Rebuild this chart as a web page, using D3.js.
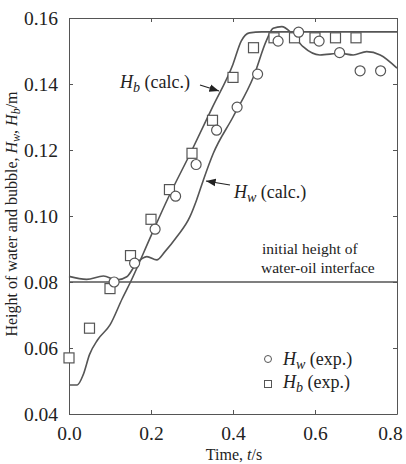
<!DOCTYPE html>
<html>
<head>
<meta charset="utf-8">
<script src="https://cdn.jsdelivr.net/npm/d3@7"></script>
<style>
  body { margin: 0; background: #fff; }
  svg text { font-family: "Liberation Serif", "DejaVu Serif", serif; fill: #222; }
</style>
</head>
<body>
<div id="chart"></div>
<script>
// calculated curves
var hb_calc_t = [0, 0.02, 0.035, 0.05, 0.07, 0.1, 0.13, 0.15, 0.2, 0.24, 0.3, 0.35, 0.4, 0.42, 0.44, 0.47, 0.8];
var hb_calc_h = [0.0488, 0.0488, 0.052, 0.058, 0.0625, 0.067, 0.075, 0.080, 0.094, 0.105, 0.120, 0.133, 0.146, 0.153, 0.1555, 0.1558, 0.1558];

var hw_calc_t = [0, 0.043, 0.084, 0.116, 0.141, 0.165, 0.19, 0.214, 0.234, 0.263, 0.295, 0.311, 0.328, 0.352, 0.4, 0.45, 0.482, 0.498, 0.519, 0.543, 0.571, 0.612, 0.661, 0.693, 0.726, 0.759, 0.8];
var hw_calc_h = [0.0817, 0.0808, 0.0818, 0.0806, 0.0816, 0.0857, 0.0877, 0.0867, 0.0892, 0.0937, 0.0998, 0.1048, 0.111, 0.119, 0.130, 0.1422, 0.1533, 0.1569, 0.1574, 0.1554, 0.1513, 0.1488, 0.1493, 0.1488, 0.1498, 0.1488, 0.1448];

// experimental points
var hw_exp_t = [0.11, 0.16, 0.21, 0.26, 0.31, 0.36, 0.41, 0.46, 0.51, 0.56, 0.61, 0.66, 0.71, 0.76];
var hw_exp_h = [0.080, 0.0857, 0.096, 0.106, 0.1156, 0.126, 0.133, 0.143, 0.153, 0.1557, 0.153, 0.1495, 0.144, 0.144];

var hb_exp_t = [0, 0.05, 0.1, 0.15, 0.2, 0.245, 0.3, 0.35, 0.4, 0.45, 0.5, 0.55, 0.6, 0.65, 0.7];
var hb_exp_h = [0.057, 0.066, 0.078, 0.088, 0.099, 0.108, 0.119, 0.129, 0.142, 0.151, 0.154, 0.154, 0.154, 0.154, 0.154];

var interface_h = 0.08;
var x_ticks = [0, 0.2, 0.4, 0.6, 0.8];
var y_ticks = [0.04, 0.06, 0.08, 0.10, 0.12, 0.14, 0.16];

var width = 406, height = 464;
var margin = {top: 18, right: 9, bottom: 50, left: 69};
var w = width - margin.left - margin.right,
    h = height - margin.top - margin.bottom;
var ink = "#555";

var svg = d3.select("#chart").append("svg")
    .attr("width", width)
    .attr("height", height);
var g = svg.append("g")
    .attr("transform", "translate(" + margin.left + "," + margin.top + ")");

var x = d3.scaleLinear().domain([0, 0.8]).range([0, w]);
var y = d3.scaleLinear().domain([0.04, 0.16]).range([h, 0]);

// axes with inward ticks, mirrored on top and right
function style_axis(sel, hide_text) {
    sel.select(".domain").attr("stroke", ink);
    sel.selectAll(".tick line").attr("stroke", ink);
    sel.selectAll(".tick text")
        .style("font-size", "19.5px")
        .style("font-family", "Liberation Serif")
        .attr("fill", "#222");
    if (hide_text) sel.selectAll(".tick text").remove();
}
var x_axis = g.append("g")
    .attr("transform", "translate(0," + h + ")")
    .call(d3.axisBottom(x).tickValues(x_ticks).tickFormat(d3.format(".1f")).tickSizeInner(-4).tickSizeOuter(0).tickPadding(12))
    .call(style_axis);
// keep the last label inside the page
x_axis.selectAll(".tick text").filter(function(d) { return d === 0.8; }).attr("dx", "-7px");
g.append("g")
    .call(d3.axisTop(x).tickValues(x_ticks).tickSizeInner(-4).tickSizeOuter(0))
    .call(style_axis, true);
g.append("g")
    .call(d3.axisLeft(y).tickValues(y_ticks).tickFormat(d3.format(".2f")).tickSizeInner(-4).tickSizeOuter(0).tickPadding(11))
    .call(style_axis);
g.append("g")
    .attr("transform", "translate(" + w + ",0)")
    .call(d3.axisRight(y).tickValues(y_ticks).tickSizeInner(-4).tickSizeOuter(0))
    .call(style_axis, true);

// initial interface line
g.append("line")
    .attr("x1", x(0)).attr("x2", x(0.8))
    .attr("y1", y(interface_h)).attr("y2", y(interface_h))
    .attr("stroke", ink).attr("stroke-width", 1.3);

var line = d3.line()
    .x(function(d) { return x(d[0]); })
    .y(function(d) { return y(d[1]); })
    .curve(d3.curveMonotoneX);

g.append("path")
    .datum(hb_calc_t.map(function(t, i) { return [t, hb_calc_h[i]]; }))
    .attr("fill", "none").attr("stroke", ink).attr("stroke-width", 1.6)
    .attr("d", line);
g.append("path")
    .datum(hw_calc_t.map(function(t, i) { return [t, hw_calc_h[i]]; }))
    .attr("fill", "none").attr("stroke", ink).attr("stroke-width", 1.6)
    .attr("d", line);

g.selectAll(".sq")
    .data(hb_exp_t)
    .enter()
    .append("rect")
        .attr("class", "sq")
        .attr("x", function(d) { return x(d) - 5; })
        .attr("y", function(d, i) { return y(hb_exp_h[i]) - 5; })
        .attr("width", 10).attr("height", 10)
        .attr("fill", "#fff").attr("stroke", ink).attr("stroke-width", 1.2);

g.selectAll(".circ")
    .data(hw_exp_t)
    .enter()
    .append("circle")
        .attr("class", "circ")
        .attr("cx", function(d) { return x(d); })
        .attr("cy", function(d, i) { return y(hw_exp_h[i]); })
        .attr("r", 5)
        .attr("fill", "#fff").attr("stroke", ink).attr("stroke-width", 1.2);

// arrow marker
svg.append("defs").append("marker")
    .attr("id", "arr")
    .attr("viewBox", "0 0 10 10")
    .attr("refX", 10).attr("refY", 5)
    .attr("markerWidth", 8).attr("markerHeight", 8)
    .attr("orient", "auto")
    .append("path")
        .attr("d", "M0,1 L10,5 L0,9 Z")
        .attr("fill", "#222");

// annotations (absolute page coordinates)
function label_h(sel, sub, rest, size) {
    sel.append("tspan").style("font-style", "italic").text("H");
    sel.append("tspan").style("font-style", "italic").attr("dy", size * 0.22)
        .style("font-size", (size * 0.78) + "px").text(sub);
    sel.append("tspan").attr("dy", -size * 0.22).text(" " + rest);
}

var t1 = svg.append("text").attr("x", 120).attr("y", 88).style("font-size", "18px");
label_h(t1, "b", "(calc.)", 18);
svg.append("line").attr("x1", 200).attr("y1", 85).attr("x2", 219).attr("y2", 91)
    .attr("stroke", "#222").attr("stroke-width", 1.2).attr("marker-end", "url(#arr)");

var t2 = svg.append("text").attr("x", 234).attr("y", 198).style("font-size", "18px");
label_h(t2, "w", "(calc.)", 18);
svg.append("line").attr("x1", 230).attr("y1", 185).attr("x2", 206).attr("y2", 181)
    .attr("stroke", "#222").attr("stroke-width", 1.2).attr("marker-end", "url(#arr)");

svg.append("text").attr("x", 262).attr("y", 254).style("font-size", "15.5px").text("initial height of");
svg.append("text").attr("x", 261).attr("y", 273).style("font-size", "15.5px").text("water-oil interface");

// legend
svg.append("circle").attr("cx", 268).attr("cy", 359).attr("r", 3.5)
    .attr("fill", "#fff").attr("stroke", ink).attr("stroke-width", 1);
svg.append("rect").attr("x", 264.5).attr("y", 380.5).attr("width", 7).attr("height", 7)
    .attr("fill", "#fff").attr("stroke", ink).attr("stroke-width", 1);
var l1 = svg.append("text").attr("x", 283).attr("y", 365).style("font-size", "18px");
label_h(l1, "w", "(exp.)", 18);
var l2 = svg.append("text").attr("x", 283).attr("y", 388).style("font-size", "18px");
label_h(l2, "b", "(exp.)", 18);

// axis titles
svg.append("text")
    .attr("x", 234).attr("y", 460)
    .attr("text-anchor", "middle")
    .style("font-size", "16px")
    .call(function(s) {
        s.append("tspan").text("Time, ");
        s.append("tspan").style("font-style", "italic").text("t");
        s.append("tspan").text("/s");
    });

var yl = svg.append("text")
    .attr("transform", "translate(17,214) rotate(-90)")
    .attr("text-anchor", "middle")
    .style("font-size", "16px");
yl.append("tspan").text("Height of water and bubble, ");
yl.append("tspan").style("font-style", "italic").text("H");
yl.append("tspan").style("font-style", "italic").attr("dy", 3).style("font-size", "12px").text("w");
yl.append("tspan").attr("dy", -3).text(", ");
yl.append("tspan").style("font-style", "italic").text("H");
yl.append("tspan").style("font-style", "italic").attr("dy", 3).style("font-size", "12px").text("b");
yl.append("tspan").attr("dy", -3).text("/m");
</script>
</body>
</html>
